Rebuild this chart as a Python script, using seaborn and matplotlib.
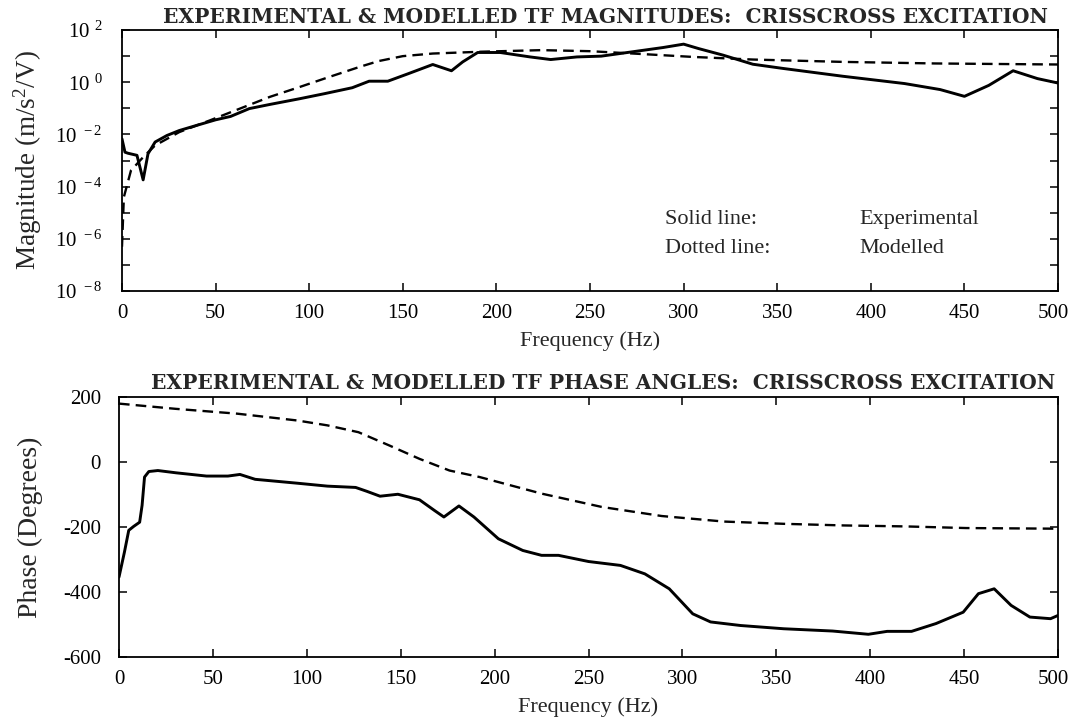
import numpy as np
import pandas as pd
import matplotlib
matplotlib.use("Agg")
import matplotlib.pyplot as plt
import matplotlib.ticker as mticker
import matplotlib.transforms as mtransforms
import seaborn as sns

# ---------------- data ----------------
mag_exp_f = [0, 1.6, 3.2, 8, 11.3, 13.9, 17.7, 24, 30.6, 40, 50, 58, 68, 79, 95, 108,
             123, 132, 142, 153, 166, 176, 182, 190, 202, 218, 229, 243, 256, 273, 289,
             300, 308, 321, 337, 353, 385, 418, 437, 450, 463, 476, 489, 500]
mag_exp_log10 = [-2.17, -2.68, -2.72, -2.8, -3.74, -2.74, -2.29, -2.04, -1.85, -1.65,
                 -1.44, -1.31, -1.01, -0.85, -0.63, -0.44, -0.21, 0.04, 0.04, 0.33, 0.68,
                 0.44, 0.78, 1.14, 1.14, 0.97, 0.87, 0.97, 1.0, 1.17, 1.33, 1.46, 1.29,
                 1.04, 0.69, 0.53, 0.23, -0.05, -0.28, -0.54, -0.12, 0.44, 0.14, -0.03]

mag_mod_f = [0, 1, 4.8, 11.3, 17.7, 30.6, 47, 63, 79, 95, 111, 127, 137, 150, 166, 192,
             224, 250, 273, 305, 337, 385, 434, 500]
mag_mod_log10 = [-6.3, -4.4, -3.38, -2.87, -2.42, -1.91, -1.46, -1.01, -0.56, -0.18,
                 0.21, 0.59, 0.81, 1.0, 1.1, 1.17, 1.23, 1.19, 1.1, 0.97, 0.87, 0.78,
                 0.72, 0.68]

ph_exp_f = [0, 2.9, 5.2, 7.8, 11, 12.3, 13.6, 15.9, 20.7, 30.4, 46.6, 58, 64.4, 72.5, 95,
            111, 126, 132, 139, 148.5, 160, 168, 173, 181, 189, 202, 215, 225, 234, 250,
            267, 280, 293, 305.5, 315, 331, 354, 380, 399, 409, 422, 435, 449.5, 457.6,
            466, 475, 485, 496, 500]
ph_exp = [-354, -277, -210, -198, -185, -133, -46, -29, -26, -33, -43, -43, -38, -53, -65,
          -74, -78, -90, -105, -99, -116, -149, -169, -135, -169, -236, -272, -287, -287,
          -306, -318, -344, -390, -467, -492, -503, -513, -520, -530, -521, -521, -497,
          -462, -405, -390, -441, -477, -482, -472]

ph_mod_f = [0, 30, 63, 95, 111, 127.5, 144, 160, 176, 192, 225, 257, 289, 322, 354, 386,
            419, 451, 500]
ph_mod = [180, 164, 149, 128, 113, 92, 51, 10, -26, -46, -97, -138, -166, -183, -190,
          -195, -198, -203, -205]

x_ticks = [0, 50, 100, 150, 200, 250, 300, 350, 400, 450, 500]
mag_exponents = [-8, -7, -6, -5, -4, -3, -2, -1, 0, 1, 2]
phase_ticks = [-600, -400, -200, 0, 200]

title_mag = "EXPERIMENTAL & MODELLED TF MAGNITUDES:  CRISSCROSS EXCITATION"
title_ph = "EXPERIMENTAL & MODELLED TF PHASE ANGLES:  CRISSCROSS EXCITATION"
xlabel = "Frequency (Hz)"
ylabel_mag = "Magnitude (m/s$^2$/V)"
ylabel_ph = "Phase (Degrees)"
legend_rows = [("Solid line:", "Experimental"), ("Dotted line:", "Modelled")]

# ---------------- style ----------------
sns.set_theme(style="ticks")
plt.rcParams["font.family"] = ["Liberation Serif", "DejaVu Serif"]
plt.rcParams["mathtext.fontset"] = "custom"
plt.rcParams["mathtext.rm"] = "Liberation Serif"
plt.rcParams["mathtext.it"] = "Liberation Serif:italic"
plt.rcParams["axes.edgecolor"] = "black"
plt.rcParams["axes.linewidth"] = 1.3

fig = plt.figure(figsize=(10.71, 7.24), dpi=100)
ax1 = fig.add_axes([0.1139, 0.598, 0.874, 0.3605])
ax2 = fig.add_axes([0.1111, 0.0925, 0.8768, 0.359])

df_me = pd.DataFrame({"f": mag_exp_f, "m": np.power(10.0, mag_exp_log10)})
df_mm = pd.DataFrame({"f": mag_mod_f, "m": np.power(10.0, mag_mod_log10)})
df_pe = pd.DataFrame({"f": ph_exp_f, "p": ph_exp})
df_pm = pd.DataFrame({"f": ph_mod_f, "p": ph_mod})

DASH = [4.5, 2.6]

# magnitude
sns.lineplot(data=df_mm, x="f", y="m", ax=ax1, color="black", linewidth=1.7,
             estimator=None, sort=False)
ax1.lines[-1].set_dashes(DASH)
sns.lineplot(data=df_me, x="f", y="m", ax=ax1, color="black", linewidth=2.1,
             estimator=None, sort=False)
ax1.set_yscale("log")
ax1.set_xlim(0, 500)
ax1.set_ylim(1e-8, 1e2)

# phase
sns.lineplot(data=df_pm, x="f", y="p", ax=ax2, color="black", linewidth=1.7,
             estimator=None, sort=False)
ax2.lines[-1].set_dashes(DASH)
sns.lineplot(data=df_pe, x="f", y="p", ax=ax2, color="black", linewidth=2.1,
             estimator=None, sort=False)
ax2.set_xlim(0, 500)
ax2.set_ylim(-600, 200)

# ticks
for ax in (ax1, ax2):
    ax.set_xticks(x_ticks)
    ax.set_xticklabels([str(t) for t in x_ticks])
    ax.tick_params(axis="both", which="major", direction="in", length=6, width=1.1,
                   top=True, right=True, colors="black", labelsize=15, pad=9)
    ax.tick_params(axis="both", which="minor", length=0)
    for s in ax.spines.values():
        s.set_visible(True)
        s.set_color("black")

ax1.yaxis.set_major_locator(mticker.FixedLocator([10.0 ** e for e in mag_exponents]))
ax1.yaxis.set_minor_locator(mticker.NullLocator())


def fmt(v, pos):
    e = int(round(np.log10(v)))
    if e % 2 == 0:
        return r"$\mathregular{10^{\ \,%d}}$" % e
    return ""


ax1.yaxis.set_major_formatter(mticker.FuncFormatter(fmt))
ax1.tick_params(axis="y", pad=14, labelsize=15)
ax2.set_yticks(phase_ticks)
ax2.set_yticklabels([str(t) for t in phase_ticks])
ax2.tick_params(axis="y", pad=13)

# labels
ax1.set_xlabel(xlabel, fontsize=16, labelpad=6)
ax2.set_xlabel(xlabel, fontsize=16, labelpad=6)
ax1.set_ylabel(ylabel_mag, fontsize=19.5)
ax2.set_ylabel(ylabel_ph, fontsize=20)
ax1.yaxis.set_label_coords(-0.083, 0.5)
ax2.yaxis.set_label_coords(-0.081, 0.5)

ax1.set_title(title_mag, fontsize=14.5, fontweight="bold", pad=5, x=0.516,
              family="DejaVu Serif")
ax2.set_title(title_ph, fontsize=14.5, fontweight="bold", pad=6, x=0.515,
              family="DejaVu Serif")

# in-plot legend text
leg_y = [10 ** -5.27, 10 ** -6.38]
for (a, b), yy in zip(legend_rows, leg_y):
    ax1.text(290, yy, a, fontsize=16, va="center", ha="left")
    ax1.text(394, yy, b, fontsize=16, va="center", ha="left")

# keep the last x tick label inside the figure (as in the reference)
fig.canvas.draw()
shift = mtransforms.ScaledTranslation(-5 / 100.0, 0, fig.dpi_scale_trans)
for ax in (ax1, ax2):
    lab = ax.get_xticklabels()[-1]
    lab.set_transform(lab.get_transform() + shift)

fig.savefig("out.png", dpi=100, facecolor="white")
